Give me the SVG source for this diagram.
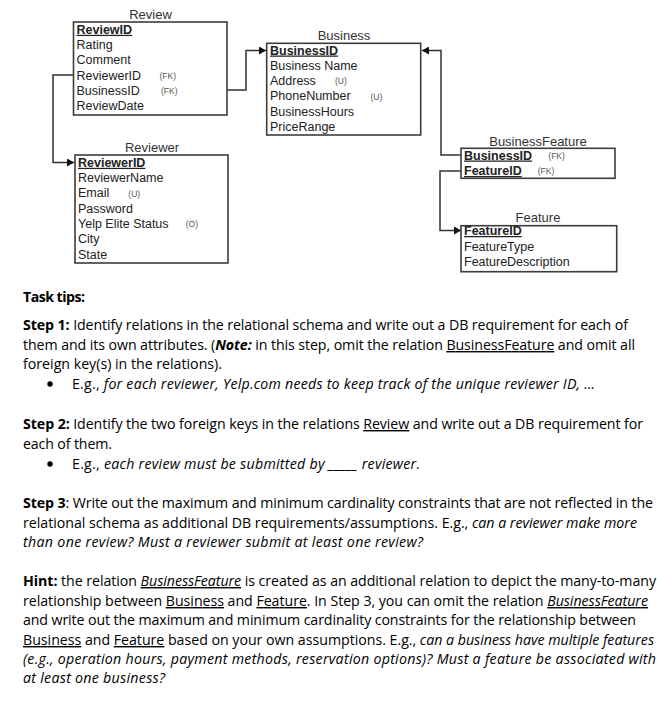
<svg xmlns="http://www.w3.org/2000/svg" width="657" height="721" viewBox="0 0 657 721">
<defs>
<marker id="arr" markerWidth="8" markerHeight="8" refX="7" refY="4" orient="auto" markerUnits="userSpaceOnUse">
<path d="M0,0 L7,4 L0,8 z" fill="#111"/>
</marker>
<style>
.box{fill:#fff;stroke:#3c3c3c;stroke-width:1.6}
.ttl{font-family:"Liberation Sans",Arial,sans-serif;font-size:13px;fill:#333;text-anchor:middle}
.at{font-family:"Liberation Sans",Arial,sans-serif;font-size:12.5px;fill:#222}
.pk{font-weight:bold;text-decoration:underline}
.tag{font-family:"Liberation Sans",Arial,sans-serif;font-size:8.5px;fill:#555}
.con{fill:none;stroke:#333;stroke-width:1.5}
.tx{font-family:"Open Sans","Noto Sans",sans-serif;font-size:14.2px;fill:#000}
.bul{fill:#000}
.b{font-weight:bold}
.i{font-style:italic}
.u{text-decoration:underline}
</style>
</defs>
<rect width="657" height="721" fill="#fff"/>

<g id="connectors">
<path class="con" d="M73,75 H53 V162.5 H74" marker-end="url(#arr)"/>
<path class="con" d="M227,90 H246 V50.5 H266" marker-end="url(#arr)"/>
<path class="con" d="M461,155 H441 V50.5 H422" marker-end="url(#arr)"/>
<path class="con" d="M461,171 H440 V230.5 H461" marker-end="url(#arr)"/>
</g>

<g id="review">
<text class="ttl" x="150.5" y="19">Review</text>
<rect class="box" x="73.5" y="22" width="153.5" height="93"/>
<text class="at pk" x="76.5" y="33.8">ReviewID</text>
<text class="at" x="76.5" y="49.1">Rating</text>
<text class="at" x="76.5" y="64.4">Comment</text>
<text class="at" x="76.5" y="79.7">ReviewerID</text>
<text class="tag" x="159.5" y="79">(FK)</text>
<text class="at" x="76.5" y="95">BusinessID</text>
<text class="tag" x="161" y="94.3">(FK)</text>
<text class="at" x="76.5" y="110.3">ReviewDate</text>
</g>

<g id="business">
<text class="ttl" x="344" y="40.3">Business</text>
<rect class="box" x="266.7" y="43.3" width="154" height="91.7"/>
<text class="at pk" x="270" y="54.5">BusinessID</text>
<text class="at" x="270" y="69.8">Business Name</text>
<text class="at" x="270" y="85.1">Address</text>
<text class="tag" x="335" y="84.4">(U)</text>
<text class="at" x="270" y="100.4">PhoneNumber</text>
<text class="tag" x="370.5" y="99.7">(U)</text>
<text class="at" x="270" y="115.7">BusinessHours</text>
<text class="at" x="270" y="131">PriceRange</text>
</g>

<g id="reviewer">
<text class="ttl" x="152" y="152.3">Reviewer</text>
<rect class="box" x="75" y="155" width="153" height="108"/>
<text class="at pk" x="78" y="166.8">ReviewerID</text>
<text class="at" x="78" y="182.1">ReviewerName</text>
<text class="at" x="78" y="197.4">Email</text>
<text class="tag" x="128.3" y="196.7">(U)</text>
<text class="at" x="78" y="212.7">Password</text>
<text class="at" x="78" y="228">Yelp Elite Status</text>
<text class="tag" x="185.7" y="227.3">(O)</text>
<text class="at" x="78" y="243.3">City</text>
<text class="at" x="78" y="258.6">State</text>
</g>

<g id="businessfeature">
<text class="ttl" x="538" y="145.5">BusinessFeature</text>
<rect class="box" x="461" y="148.3" width="154" height="30"/>
<text class="at pk" x="464" y="159.5">BusinessID</text>
<text class="tag" x="548.3" y="158.8">(FK)</text>
<text class="at pk" x="464" y="175">FeatureID</text>
<text class="tag" x="537.7" y="174.3">(FK)</text>
</g>

<g id="feature">
<text class="ttl" x="538" y="222.3">Feature</text>
<rect class="box" x="461" y="225.7" width="155.7" height="46"/>
<text class="at pk" x="464" y="235">FeatureID</text>
<text class="at" x="464" y="250.5">FeatureType</text>
<text class="at" x="464" y="266">FeatureDescription</text>
</g>

<g id="tips">
<text class="tx b" x="23" y="302" textLength="62">Task tips:</text>
<text class="tx" x="23" y="330" textLength="605"><tspan class="b">Step 1:</tspan> Identify relations in the relational schema and write out a DB requirement for each of</text>
<text class="tx" x="23" y="350" textLength="612">them and its own attributes. (<tspan class="b i">Note:</tspan> in this step, omit the relation <tspan class="u">BusinessFeature</tspan> and omit all</text>
<text class="tx" x="23" y="369" textLength="199">foreign key(s) in the relations).</text>
<circle class="bul" cx="50" cy="384" r="2.7"/>
<text class="tx" x="72" y="389" textLength="523">E.g., <tspan class="i">for each reviewer, Yelp.com needs to keep track of the unique reviewer ID, …</tspan></text>

<text class="tx" x="23" y="429" textLength="620"><tspan class="b">Step 2:</tspan> Identify the two foreign keys in the relations <tspan class="u">Review</tspan> and write out a DB requirement for</text>
<text class="tx" x="23" y="449" textLength="89">each of them.</text>
<circle class="bul" cx="50" cy="464" r="2.7"/>
<text class="tx" x="72" y="469" textLength="348">E.g., <tspan class="i">each review must be submitted by _____ reviewer.</tspan></text>

<text class="tx" x="23" y="508" textLength="630"><tspan class="b">Step 3</tspan>: Write out the maximum and minimum cardinality constraints that are not reflected in the</text>
<text class="tx" x="23" y="528" textLength="614">relational schema as additional DB requirements/assumptions. E.g., <tspan class="i">can a reviewer make more</tspan></text>
<text class="tx i" x="23" y="547" textLength="400">than one review? Must a reviewer submit at least one review?</text>

<text class="tx" x="23" y="586" textLength="633"><tspan class="b">Hint:</tspan> the relation <tspan class="i u">BusinessFeature</tspan> is created as an additional relation to depict the many-to-many</text>
<text class="tx" x="23" y="606" textLength="625">relationship between <tspan class="u">Business</tspan> and <tspan class="u">Feature</tspan>. In Step 3, you can omit the relation <tspan class="i u">BusinessFeature</tspan></text>
<text class="tx" x="23" y="625" textLength="613">and write out the maximum and minimum cardinality constraints for the relationship between</text>
<text class="tx" x="23" y="645" textLength="631"><tspan class="u">Business</tspan> and <tspan class="u">Feature</tspan> based on your own assumptions. E.g., <tspan class="i">can a business have multiple features</tspan></text>
<text class="tx i" x="23" y="664" textLength="633">(e.g., operation hours, payment methods, reservation options)? Must a feature be associated with</text>
<text class="tx i" x="23" y="683" textLength="142">at least one business?</text>
</g>
</svg>
